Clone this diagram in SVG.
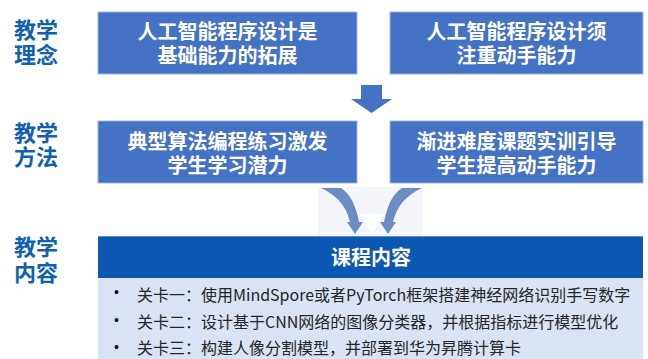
<svg xmlns="http://www.w3.org/2000/svg" width="648" height="359" viewBox="0 0 648 359">
<style>
.lbl{font-family:"Noto Sans CJK SC","Noto Sans",sans-serif;font-size:22px;font-weight:bold;fill:#1061b0}
.box{fill:#4472c4;stroke:#9db4e0;stroke-width:1}
.bt{font-family:"Noto Sans CJK SC","Noto Sans",sans-serif;font-size:20px;font-weight:bold;fill:#ffffff;text-anchor:middle}
.item{font-family:"Noto Sans CJK SC","Noto Sans",sans-serif;font-size:16px;fill:#262626}
.bul{font-family:"Liberation Sans",sans-serif;font-size:14px;fill:#111111}
.carrow{fill:#6d8cc4}
</style>
<rect x="0" y="0" width="648" height="359" fill="#ffffff"/>
<g id="labels">
<text class="lbl" x="14" y="37.5">教学<tspan x="14" y="62.5">理念</tspan></text>
<text class="lbl" x="14" y="140.5">教学<tspan x="14" y="164.5">方法</tspan></text>
<text class="lbl" x="14" y="254.5">教学<tspan x="14" y="280.5">内容</tspan></text>
</g>
<g id="node1">
<rect class="box" x="98" y="12" width="259" height="62"/>
<text class="bt" x="227.5" y="38.5">人工智能程序设计是<tspan x="227.5" y="62.5">基础能力的拓展</tspan></text>
</g>
<g id="node2">
<rect class="box" x="390" y="12" width="253" height="62"/>
<text class="bt" x="516.5" y="38.5">人工智能程序设计须<tspan x="516.5" y="62.5">注重动手能力</tspan></text>
</g>
<g id="node3">
<rect class="box" x="98" y="121" width="259" height="62"/>
<text class="bt" x="227.5" y="148.5">典型算法编程练习激发<tspan x="227.5" y="172.5">学生学习潜力</tspan></text>
</g>
<g id="node4">
<rect class="box" x="390" y="121" width="253" height="62"/>
<text class="bt" x="516.5" y="148.5">渐进难度课题实训引导<tspan x="516.5" y="172.5">学生提高动手能力</tspan></text>
</g>
<g id="connectors">
<path d="M361 85 H382 V99 H392 L371.5 113 L351 99 H361 Z" fill="#4472c4"/>
<rect x="318" y="187" width="105" height="49" fill="#f3f5fa"/>
<path d="M360 214 H384 L372 234 Z" fill="#ffffff"/>
<path class="carrow" d="M321 188 Q345 199 350 222 L347 222 L355 234 L363 222 L359 222 Q354 196 341 188 Z"/>
<path class="carrow" d="M422 188 Q398 199 393 222 L396 222 L388 234 L380 222 L384 222 Q389 196 402 188 Z"/>
</g>
<g id="node5">
<rect x="98" y="278" width="545" height="81" fill="#dae3f3"/>
<rect x="98" y="236" width="545" height="42" fill="#0b57b2"/>
<line x1="98" y1="236.5" x2="643" y2="236.5" stroke="#5b8fd0" stroke-width="1"/>
<text class="bt" x="371" y="265">课程内容</text>
<text class="bul" x="114" y="297">•</text>
<text class="bul" x="114" y="325">•</text>
<text class="bul" x="114" y="352">•</text>
<text class="item" x="137" y="301">关卡一：使用MindSpore或者PyTorch框架搭建神经网络识别手写数字</text>
<text class="item" x="137" y="328">关卡二：设计基于CNN网络的图像分类器，并根据指标进行模型优化</text>
<text class="item" x="137" y="354">关卡三：构建人像分割模型，并部署到华为昇腾计算卡</text>
</g>
</svg>
